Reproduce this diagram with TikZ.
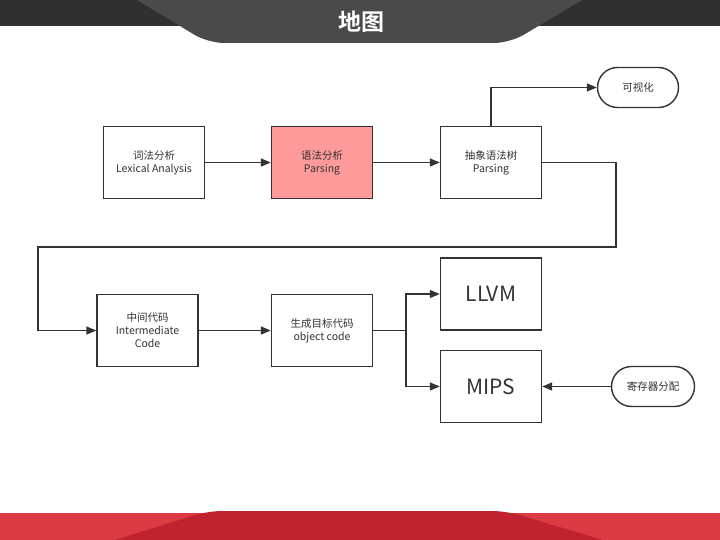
\documentclass[tikz,border=0pt]{standalone}
\usepackage{fontspec}
\setmainfont{Noto Sans CJK SC}
\newfontfamily\cjkbold[BoldFont={Noto Sans CJK SC Bold}]{Noto Sans CJK SC}
\usetikzlibrary{arrows.meta,shapes.misc}
\definecolor{bandtop}{HTML}{303030}
\definecolor{tabtop}{HTML}{4A4A4A}
\definecolor{bandred}{HTML}{DC3B44}
\definecolor{tabred}{HTML}{C0232F}
\definecolor{ink}{HTML}{333333}
\definecolor{pinkfill}{HTML}{FF9A9A}
\tikzset{
  stagebox/.style={draw=ink, line width=1.4pt, fill=white, minimum width=101pt,
    minimum height=72pt, inner sep=0pt, align=center, text=ink,
    font=\fontsize{10.5}{13}\selectfont},
  bigbox/.style={stagebox, font=\fontsize{21}{24}\selectfont},
  pill/.style={draw=ink, line width=1.4pt, fill=white, rounded rectangle,
    minimum width=81pt, minimum height=40pt, inner sep=0pt, text=ink,
    font=\fontsize{10.5}{13}\selectfont},
  flow/.style={draw=ink, line width=1.4pt, -{Triangle[length=10pt,width=8pt]}},
}
\begin{document}
\begin{tikzpicture}[x=1pt,y=-1pt]
  \useasboundingbox (0,0) rectangle (720,540);
  \fill[white] (0,0) rectangle (720,540);
  % header band and title tab
  \fill[bandtop] (0,0) rectangle (720,26);
  \fill[tabtop] (137,0) [rounded corners=16pt] -- (208,43) -- (510,43)
    [sharp corners] -- (582,0) -- cycle;
  \node[text=white, font=\cjkbold\bfseries\fontsize{23}{26}\selectfont] (title) at (361,22) {地图};
  % footer band and tab
  \fill[bandred] (0,513) rectangle (720,540);
  \fill[tabred] (115,540) [rounded corners=14pt] -- (208,511) -- (506,511)
    [sharp corners] -- (603,540) -- cycle;

  % stages
  \node[stagebox] (lex) at (154,162.5) {词法分析\\Lexical Analysis};
  \node[stagebox, fill=pinkfill] (parse) at (322,162.5) {语法分析\\Parsing};
  \node[stagebox] (ast) at (491,162.5) {抽象语法树\\Parsing};
  \node[pill] (vis) at (638,87.5) {可视化};
  \node[stagebox] (ir) at (147.5,330.5) {中间代码\\Intermediate\\Code};
  \node[stagebox] (obj) at (322,330.5) {生成目标代码\\object code};
  \node[bigbox] (llvm) at (491,294) {LLVM};
  \node[bigbox] (mips) at (491,386.5) {MIPS};
  \node[pill, minimum width=83pt] (reg) at (653,386.5) {寄存器分配};

  % connectors
  \coordinate (split) at (406,330.5);
  \draw[flow] (lex) -- (parse);
  \draw[flow] (parse) -- (ast);
  \draw[flow] (ast.north) |- (vis.west);
  \draw[flow] (ast.east) -- (616,162.5) -- (616,247) -- (38,247) |- (ir.west);
  \draw[flow] (ir) -- (obj);
  \draw[draw=ink, line width=1.4pt] (obj.east) -- (split);
  \draw[flow] (split) |- (llvm.west);
  \draw[flow] (split) |- (mips.west);
  \draw[flow] (reg) -- (mips);
\end{tikzpicture}
\end{document}
